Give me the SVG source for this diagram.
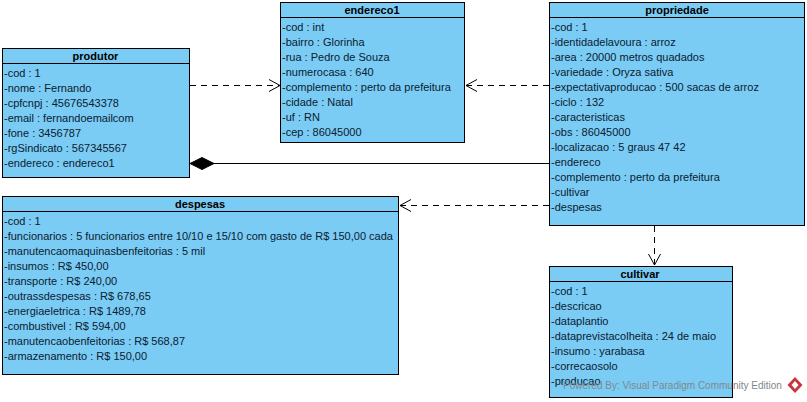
<svg xmlns="http://www.w3.org/2000/svg" width="807" height="402" viewBox="0 0 807 402">
<style>
.box{fill:#7accf5;stroke:#000;stroke-width:1}
.sep{stroke:#000;stroke-width:1;fill:none}
text{font-family:"Liberation Sans",Arial,sans-serif;font-size:11px;fill:#0c2030}
.t{font-weight:bold;text-anchor:middle;fill:#000}
.dash{stroke:#000;stroke-width:1;fill:none;stroke-dasharray:6 5}
.head{stroke:#000;stroke-width:1;fill:none}
.wm{fill:#80888d;font-size:10px}
</style>
<rect width="807" height="402" fill="#fff"/>
<g id="connectors">
<path class="dash" d="M190 85.500H279"/><path class="head" d="M269 79.500L280 85.500L269 91.500"/>
<path class="dash" d="M549 85.500H466"/><path class="head" d="M477 79.500L466 85.500L477 91.500"/>
<path class="dash" d="M549 205.500H400"/><path class="head" d="M411 199.500L400 205.500L411 211.500"/>
<path class="dash" d="M654.500 226V265"/><path class="head" d="M648.500 254L654.500 265L660.500 254"/>
<path stroke="#000" fill="none" d="M214 163.500H549"/><path fill="#000" stroke="#000" d="M190 163.500L202 157.500L214 163.500L202 169.500Z"/>
</g>
<g id="produtor">
<rect class="box" x="2.500" y="48.500" width="187" height="129"/><path class="sep" d="M2.500 63.500H189.500"/>
<text class="t" x="95.500" y="60">produtor</text>
<text x="4" y="77">-cod : 1</text><text x="4" y="92">-nome : Fernando</text><text x="4" y="107">-cpfcnpj : 45676543378</text><text x="4" y="122">-email : fernandoemailcom</text><text x="4" y="137">-fone : 3456787</text><text x="4" y="152">-rgSindicato : 567345567</text><text x="4" y="167">-endereco : endereco1</text>
</g>
<g id="endereco1">
<rect class="box" x="280.500" y="2.500" width="184" height="140"/><path class="sep" d="M280.500 17.500H464.500"/>
<text class="t" x="372" y="14">endereco1</text>
<text x="282" y="31">-cod : int</text><text x="282" y="46">-bairro : Glorinha</text><text x="282" y="61">-rua : Pedro de Souza</text><text x="282" y="76">-numerocasa : 640</text><text x="282" y="91">-complemento : perto da prefeitura</text><text x="282" y="106">-cidade : Natal</text><text x="282" y="121">-uf : RN</text><text x="282" y="136">-cep : 86045000</text>
</g>
<g id="propriedade">
<rect class="box" x="549.500" y="2.500" width="255" height="223"/><path class="sep" d="M549.500 17.500H804.500"/>
<text class="t" x="677" y="14">propriedade</text>
<text x="551" y="31">-cod : 1</text><text x="551" y="46">-identidadelavoura : arroz</text><text x="551" y="61">-area : 20000 metros quadados</text><text x="551" y="76">-variedade : Oryza sativa</text><text x="551" y="91">-expectativaproducao : 500 sacas de arroz</text><text x="551" y="106">-ciclo : 132</text><text x="551" y="121">-caracteristicas</text><text x="551" y="136">-obs : 86045000</text><text x="551" y="151">-localizacao : 5 graus 47 42</text><text x="551" y="166">-endereco</text><text x="551" y="181">-complemento : perto da prefeitura</text><text x="551" y="196">-cultivar</text><text x="551" y="211">-despesas</text>
</g>
<g id="despesas">
<rect class="box" x="2.500" y="196.500" width="396" height="178"/><path class="sep" d="M2.500 211.500H398.500"/>
<text class="t" x="200" y="208">despesas</text>
<text x="4" y="225">-cod : 1</text><text x="4" y="240">-funcionarios : 5 funcionarios entre 10/10 e 15/10 com gasto de R$ 150,00 cada</text><text x="4" y="255">-manutencaomaquinasbenfeitorias : 5 mil</text><text x="4" y="270">-insumos : R$ 450,00</text><text x="4" y="285">-transporte : R$ 240,00</text><text x="4" y="300">-outrassdespesas : R$ 678,65</text><text x="4" y="315">-energiaeletrica : R$ 1489,78</text><text x="4" y="330">-combustivel : R$ 594,00</text><text x="4" y="345">-manutencaobenfeitorias : R$ 568,87</text><text x="4" y="360">-armazenamento : R$ 150,00</text>
</g>
<g id="cultivar">
<rect class="box" x="549.500" y="266.500" width="183" height="131"/><path class="sep" d="M549.500 281.500H732.500"/>
<text class="t" x="640" y="278">cultivar</text>
<text x="551" y="295">-cod : 1</text><text x="551" y="310">-descricao</text><text x="551" y="325">-dataplantio</text><text x="551" y="340">-dataprevistacolheita : 24 de maio</text><text x="551" y="355">-insumo : yarabasa</text><text x="551" y="370">-correcaosolo</text><text x="551" y="385">-producao</text>
</g>
<text class="wm" x="563" y="389">Powered By: Visual Paradigm Community Edition</text>
<path fill="#c8343c" d="M795 377L802.500 385L795 393L787.500 385Z"/><path fill="#fff" d="M795 381L798.500 385L795 389L791.500 385Z"/>
</svg>
